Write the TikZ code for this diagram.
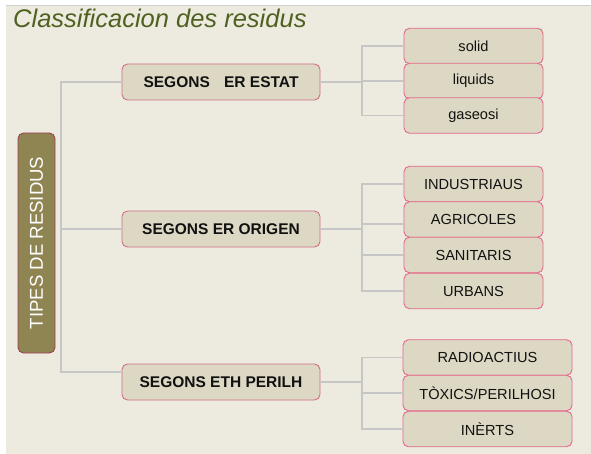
\documentclass[tikz,border=0pt]{standalone}
\usepackage{fontspec}
\setmainfont{Liberation Sans}
\definecolor{bgc}{HTML}{EDEAE0}
\definecolor{boxf}{HTML}{DDD8C3}
\definecolor{lvoneb}{HTML}{CF6F87}
\definecolor{lvtwob}{HTML}{E4678A}
\definecolor{rootf}{HTML}{8F8552}
\definecolor{rootb}{HTML}{9E3F55}
\definecolor{connc}{HTML}{C6C6C6}
\definecolor{txt}{HTML}{111111}
\definecolor{titlec}{HTML}{4E611F}
\definecolor{topline}{HTML}{CFCFCF}
\begin{document}
\begin{tikzpicture}[x=1pt,y=-1pt,
  conn/.style={draw=connc, line width=1.6pt},
  lvone/.style={draw=lvoneb, line width=0.9pt, fill=boxf, rounded corners=5.5pt,
    minimum width=198pt, minimum height=36pt, inner sep=0pt,
    font=\fontsize{15.5}{18}\selectfont\bfseries, text=txt},
  lvtwo/.style={draw=lvtwob, line width=0.9pt, fill=boxf, rounded corners=5.5pt,
    minimum width=139pt, minimum height=35.5pt, inner sep=0pt,
    font=\fontsize{14.6}{17}\selectfont, text=txt},
  lvthree/.style={lvtwo, minimum width=169pt},
  rootbox/.style={draw=rootb, line width=0.9pt, fill=rootf, rounded corners=5.5pt,
    minimum width=220pt, minimum height=37pt, inner sep=0pt,
    font=\fontsize{18.6}{21}\selectfont, text=white},
  titlestyle/.style={font=\fontsize{25.5}{28}\selectfont\itshape, text=titlec, inner sep=0pt}
]
% page and background
\useasboundingbox (0,0) rectangle (591,454);
\fill[white] (0,0) rectangle (591,454);
\fill[bgc] (6,6) rectangle (591,454);
\draw[topline, line width=1pt] (6,5.5) -- (591,5.5);

% title
\node[titlestyle, anchor=base west] (title) at (13,28) {Classificacion des residus};

% root
\node[rootbox, rotate=90] (root) at (36.5,243) {TIPES DE RESIDUS};

% level one
\node[lvone] (l1a) at (221,82) {SEGONS\hspace{10pt} ER ESTAT};
\node[lvone] (l1b) at (221,229) {SEGONS ER ORIGEN};
\node[lvone] (l1c) at (221,382) {SEGONS ETH PERILH};

% level two, group 1
\node[lvtwo] (solid) at (473.5,46) {solid};
\node[lvtwo] (liq) at (473.5,81) {liquids};
\node[lvtwo] (gas) at (473.5,115.5) {gaseosi};

% group 2
\node[lvtwo] (ind) at (473.5,184) {INDUSTRIAUS};
\node[lvtwo] (agr) at (473.5,219.5) {AGRICOLES};
\node[lvtwo] (san) at (473.5,255) {SANITARIS};
\node[lvtwo] (urb) at (473.5,291) {URBANS};

% group 3
\node[lvthree] (rad) at (487.5,357.5) {RADIOACTIUS};
\node[lvthree] (tox) at (487.5,393) {TÒXICS/PERILHOSI};
\node[lvthree] (ine) at (487.5,429) {INÈRTS};

% trunk connectors
\coordinate (tk) at (61,0);
\coordinate (l1cin) at ([yshift=10pt]l1c.west);
\draw[conn] (l1a.west) -- (l1a.west -| tk) -- (tk |- l1cin) -- (l1cin);
\draw[conn] (l1b.west) -- (l1b.west -| tk);

% group 1 connectors
\coordinate (ja) at (362,82);
\draw[conn] (l1a.east) -- (ja);
\draw[conn] (solid.west) -| (ja) |- (gas.west);
\draw[conn] (liq.west) -- (liq.west -| ja);

% group 2 connectors
\coordinate (jb) at (362,229);
\coordinate (agrin) at ([yshift=-4.5pt]agr.west);
\draw[conn] (l1b.east) -- (jb);
\draw[conn] (ind.west) -| (jb) |- (urb.west);
\draw[conn] (agrin) -- (agrin -| jb);
\draw[conn] (san.west) -- (san.west -| jb);

% group 3 connectors
\coordinate (jc) at (362,382);
\draw[conn] (l1c.east) -- (jc);
\draw[conn] (rad.west) -| (jc) |- (ine.west);
\draw[conn] (tox.west) -- (tox.west -| jc);
\end{tikzpicture}
\end{document}
